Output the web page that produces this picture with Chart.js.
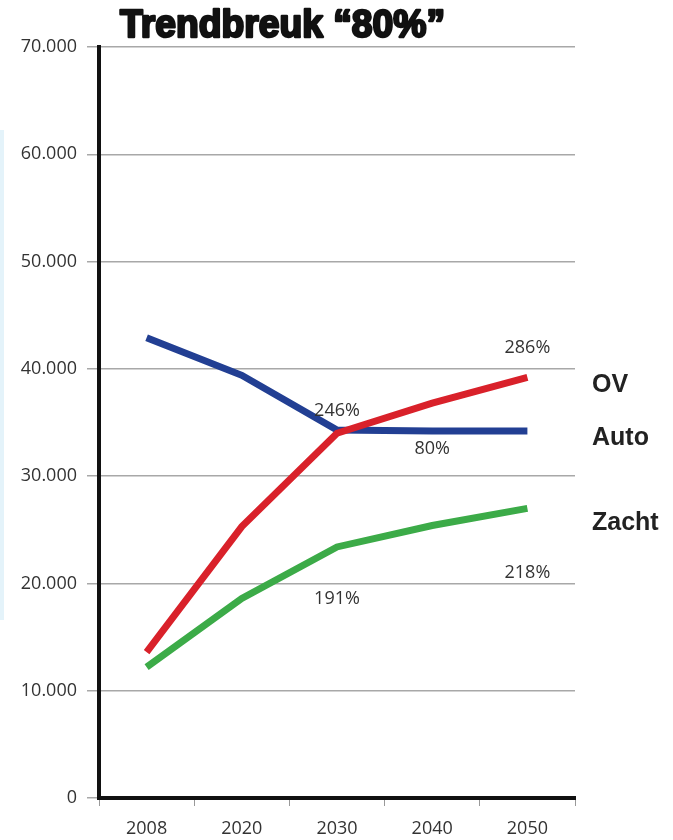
<!DOCTYPE html>
<html>
<head>
<meta charset="utf-8">
<script src="https://cdn.jsdelivr.net/npm/chart.js@4"></script>
<style>
  html, body { margin: 0; padding: 0; background: #fff; }
  #wrap { position: relative; width: 673px; height: 840px; }
</style>
</head>
<body>
<div id="wrap"><canvas id="trendChart" width="673" height="840"></canvas></div>
<script>
// Data
let years = ["2008", "2020", "2030", "2040", "2050"];
let autoData = [42900, 39400, 34300, 34200, 34200];
let ovData = [13600, 25300, 34000, 36800, 39200];
let zachtData = [12200, 18600, 23400, 25400, 27000];

// percentage notes: category index + value where the text sits
let noteTexts = ["246%", "80%", "286%", "191%", "218%"];
let noteIndex = [2, 3, 4, 2, 4];
let noteValues = [36100, 32500, 42000, 18600, 21000];

// series names on the right side
let sideNames = ["OV", "Auto", "Zacht"];
let sideValues = [38500, 33500, 25600];

let titleText = "Trendbreuk \u201c80%\u201d";

function fmt(v) {
  if (v === 0) return "0";
  return v / 1000 + ".000";
}

// Extra text: title, notes, series names, and the blue edge strip
let textPlugin = {
  id: "textPlugin",
  beforeDraw(chart) {
    let ctx = chart.ctx;
    ctx.save();
    ctx.fillStyle = "#e4f3fa";
    ctx.fillRect(0, 130, 4, 490);
    ctx.restore();
  },
  afterDatasetsDraw(chart) {
    let ctx = chart.ctx;
    let x = chart.scales.x;
    let y = chart.scales.y;
    ctx.save();

    // notes
    ctx.font = "18px 'Open Sans', sans-serif";
    ctx.fillStyle = "#333";
    ctx.textAlign = "center";
    ctx.textBaseline = "middle";
    noteTexts.forEach((t, i) => {
      ctx.fillText(t, x.getPixelForValue(noteIndex[i]), y.getPixelForValue(noteValues[i]));
    });

    // series names
    ctx.font = "bold 25px 'Liberation Sans', Arial, sans-serif";
    ctx.fillStyle = "#222";
    ctx.textAlign = "left";
    sideNames.forEach((t, i) => {
      ctx.fillText(t, chart.chartArea.right + 17, y.getPixelForValue(sideValues[i]));
    });

    // title
    ctx.font = "bold 39px 'Liberation Sans', Arial, sans-serif";
    ctx.textBaseline = "alphabetic";
    let w = ctx.measureText(titleText).width;
    ctx.translate(120, 37);
    ctx.scale(325 / w, 1);
    ctx.fillStyle = "#111";
    ctx.strokeStyle = "#111";
    ctx.lineWidth = 2.5;
    ctx.lineJoin = "round";
    ctx.strokeText(titleText, 0, 0);
    ctx.fillText(titleText, 0, 0);
    ctx.restore();
  },
};

let chartCtx = document.getElementById("trendChart").getContext("2d");
let trendChart = new Chart(chartCtx, {
  type: "line",
  data: {
    labels: years,
    datasets: [
      {
        label: "OV",
        data: ovData,
        borderColor: "#d9212a",
        borderWidth: 7,
        pointRadius: 0,
        tension: 0,
      },
      {
        label: "Auto",
        data: autoData,
        borderColor: "#223f93",
        borderWidth: 7,
        pointRadius: 0,
        tension: 0,
      },
      {
        label: "Zacht",
        data: zachtData,
        borderColor: "#3cab48",
        borderWidth: 7,
        pointRadius: 0,
        tension: 0,
      },
    ],
  },
  options: {
    responsive: false,
    animation: false,
    layout: {
      padding: { top: 47, right: 98, bottom: 0, left: 0 },
    },
    plugins: {
      legend: { display: false },
      tooltip: { enabled: false },
    },
    scales: {
      x: {
        offset: true,
        grid: {
          offset: true,
          drawOnChartArea: false,
          drawTicks: true,
          tickLength: 8,
          color: "#999",
          lineWidth: 1,
        },
        border: { color: "#111", width: 4 },
        ticks: {
          color: "#333",
          font: { family: "'Open Sans', sans-serif", size: 18 },
          padding: 12,
        },
        afterFit(scale) {
          scale.height = 42;
        },
      },
      y: {
        min: 0,
        max: 70000,
        grid: {
          color: "#a8a8a8",
          lineWidth: 1.5,
          tickLength: 12,
        },
        border: { color: "#111", width: 4 },
        ticks: {
          stepSize: 10000,
          color: "#333",
          font: { family: "'Open Sans', sans-serif", size: 18 },
          padding: 10,
          callback: (v) => fmt(v),
        },
        afterFit(scale) {
          scale.width = 99;
        },
      },
    },
  },
  plugins: [textPlugin],
});
</script>
</body>
</html>
